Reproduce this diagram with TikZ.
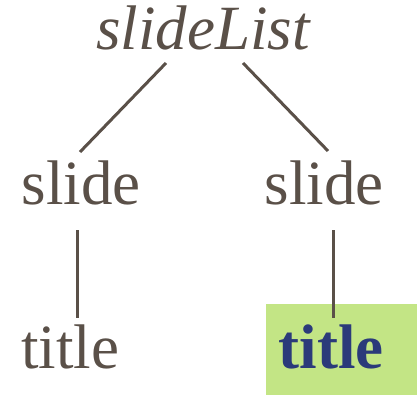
\documentclass[tikz,border=0pt]{standalone}
\usepackage{fontspec}
\setmainfont{Liberation Serif}
\usetikzlibrary{calc}
\definecolor{ink}{HTML}{5A5048}
\definecolor{hilite}{HTML}{C3E585}
\definecolor{deepblue}{HTML}{2B3A7A}
\tikzset{
  word/.style={inner sep=0pt, anchor=base, text=ink, font=\fontsize{63}{63}\selectfont},
  edge/.style={draw=ink, line width=3pt},
}
\begin{document}
\begin{tikzpicture}[x=1pt, y=-1pt]
  \useasboundingbox (0,0) rectangle (417,395);
  % highlighted leaf
  \fill[hilite] (266,304) rectangle (417,395);
  % tree nodes
  \node[word] (root) at (203,50) {\itshape slideList};
  \node[word] (s1) at (81,205) {slide};
  \node[word] (s2) at (324,205) {slide};
  \node[word] (t1) at (70,368) {title};
  \node[word, text=deepblue] (t2) at (331,368) {\bfseries title};
  % edges
  \draw[edge] ($(root.base)+(-37,13)$) -- ($(s1.base)+(-1,-53)$);
  \draw[edge] ($(root.base)+(40,13)$) -- ($(s2.base)+(4,-54)$);
  \draw[edge] ($(s1.base)+(-4,25)$) -- ($(t1.base)+(7,-50)$);
  \draw[edge] ($(s2.base)+(9,25)$) -- ($(t2.base)+(2,-50)$);
\end{tikzpicture}
\end{document}
